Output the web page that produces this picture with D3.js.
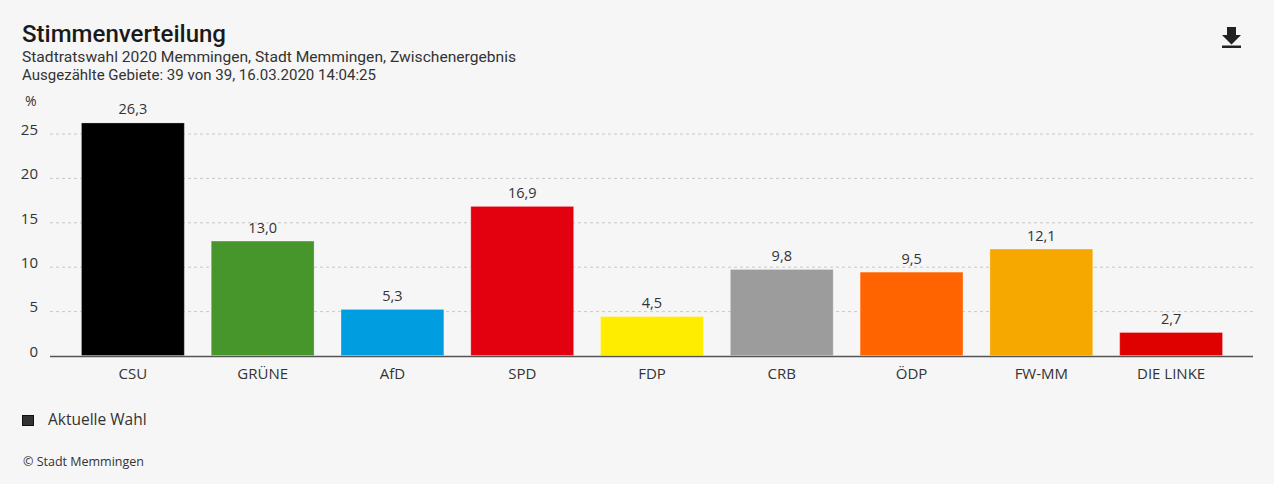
<!DOCTYPE html>
<html><head><meta charset="utf-8">
<script src="https://cdnjs.cloudflare.com/ajax/libs/d3/7.8.5/d3.min.js"></script>
<style>
html,body{margin:0;padding:0;background:#fff;}
svg{display:block;}
</style></head>
<body>
<script>
const categories = ["CSU","GRÜNE","AfD","SPD","FDP","CRB","ÖDP","FW-MM","DIE LINKE"];
const values = [26.3,13.0,5.3,16.9,4.5,9.8,9.5,12.1,2.7];
const colors = ["#000000","#46962b","#009ee0","#e3000f","#ffed00","#9c9c9c","#ff6400","#f7a800","#df0000"];
const yTicks = [0,5,10,15,20,25];
const title = "Stimmenverteilung";
const subtitle1 = "Stadtratswahl 2020 Memmingen, Stadt Memmingen, Zwischenergebnis";
const subtitle2 = "Ausgezählte Gebiete: 39 von 39, 16.03.2020 14:04:25";
const legendLabel = "Aktuelle Wahl";
const credit = "© Stadt Memmingen";

const W = 1280, H = 485;
const font = "'Open Sans', 'Noto Sans', sans-serif";
const headFont = "Roboto, 'Open Sans', sans-serif";
const svg = d3.select("body").append("svg").attr("width", W).attr("height", H)
  .style("font-family", font);
svg.append("rect").attr("width", 1274).attr("height", 484).attr("fill", "#f6f6f6");

svg.append("text").attr("x", 22).attr("y", 42).text(title).attr("font-family", headFont)
  .attr("font-size", 23).attr("font-weight", 500).attr("fill", "#1a1a1a")
  .attr("textLength", 204).attr("lengthAdjust","spacingAndGlyphs");
svg.append("text").attr("x", 22).attr("y", 62).text(subtitle1).attr("font-family", headFont)
  .attr("font-size", 15).attr("fill", "#333").attr("textLength", 494).attr("lengthAdjust","spacingAndGlyphs");
svg.append("text").attr("x", 22).attr("y", 80).text(subtitle2).attr("font-family", headFont)
  .attr("font-size", 15).attr("fill", "#333").attr("textLength", 354).attr("lengthAdjust","spacingAndGlyphs");

// download icon
const ic = svg.append("g").attr("fill", "#222");
ic.append("path").attr("d", "M1227,27 h9 v8 h5 l-9.5,9.5 l-9.5,-9.5 h5 z");
ic.append("rect").attr("x", 1222).attr("y", 45.5).attr("width", 19).attr("height", 2.5);

const x = d3.scaleBand().domain(categories).range([68, 1236]).paddingInner(0.2).paddingOuter(0.1);
const y = d3.scaleLinear().domain([0, 25]).range([356, 134]);

// grid
svg.append("g").selectAll("line").data(yTicks.filter(d => d > 0)).join("line")
  .attr("x1", 50).attr("x2", 1253).attr("y1", d => y(d)).attr("y2", d => y(d))
  .attr("stroke", "#c8c8c8").attr("stroke-width", 1).attr("stroke-dasharray", "3,3");

// y axis labels
const yAxis = d3.axisLeft(y).tickValues(yTicks).tickSize(0).tickPadding(0);
const gy = svg.append("g").attr("transform", "translate(38,-4.5)").call(yAxis);
gy.select(".domain").remove();
gy.selectAll("text").attr("font-size", 15).attr("fill", "#333").attr("font-family", font);

svg.append("text").attr("x", 25).attr("y", 106).text("%").attr("font-size", 14).attr("fill", "#333");

// bars
svg.append("g").selectAll("rect").data(values).join("rect")
  .attr("x", (d, i) => x(categories[i]) + 0.5).attr("width", x.bandwidth() - 1)
  .attr("y", d => y(d) + 0.5).attr("height", d => y(0) - y(d) - 1)
  .attr("fill", (d, i) => colors[i])
  .attr("stroke", "rgba(255,255,255,0.25)").attr("stroke-width", 1);

// value labels
svg.append("g").selectAll("text").data(values).join("text")
  .attr("x", (d, i) => x(categories[i]) + x.bandwidth() / 2)
  .attr("y", d => y(d) - 8)
  .attr("text-anchor", "middle").attr("font-size", 14.5).attr("fill", "#333")
  .text(d => d.toFixed(1).replace(".", ","));

// x axis
const xAxis = d3.axisBottom(x).tickSize(0).tickPadding(12);
const gx = svg.append("g").attr("transform", "translate(0,356)").call(xAxis);
gx.select(".domain").remove();
gx.selectAll("text").attr("font-size", 15).attr("fill", "#333").attr("font-family", font);
svg.append("line").attr("x1", 50).attr("x2", 1253).attr("y1", 356.5).attr("y2", 356.5)
  .attr("stroke", "#555").attr("stroke-width", 1.5);

// legend
svg.append("rect").attr("x", 22.5).attr("y", 415.5).attr("width", 11).attr("height", 10)
  .attr("fill", "#333").attr("stroke", "#111").attr("stroke-width", 1);
svg.append("text").attr("x", 48).attr("y", 425).text(legendLabel).attr("font-size", 15.5).attr("fill", "#333");

svg.append("text").attr("x", 23).attr("y", 466).text(credit).attr("font-size", 12.5).attr("fill", "#333");
</script>
</body></html>
